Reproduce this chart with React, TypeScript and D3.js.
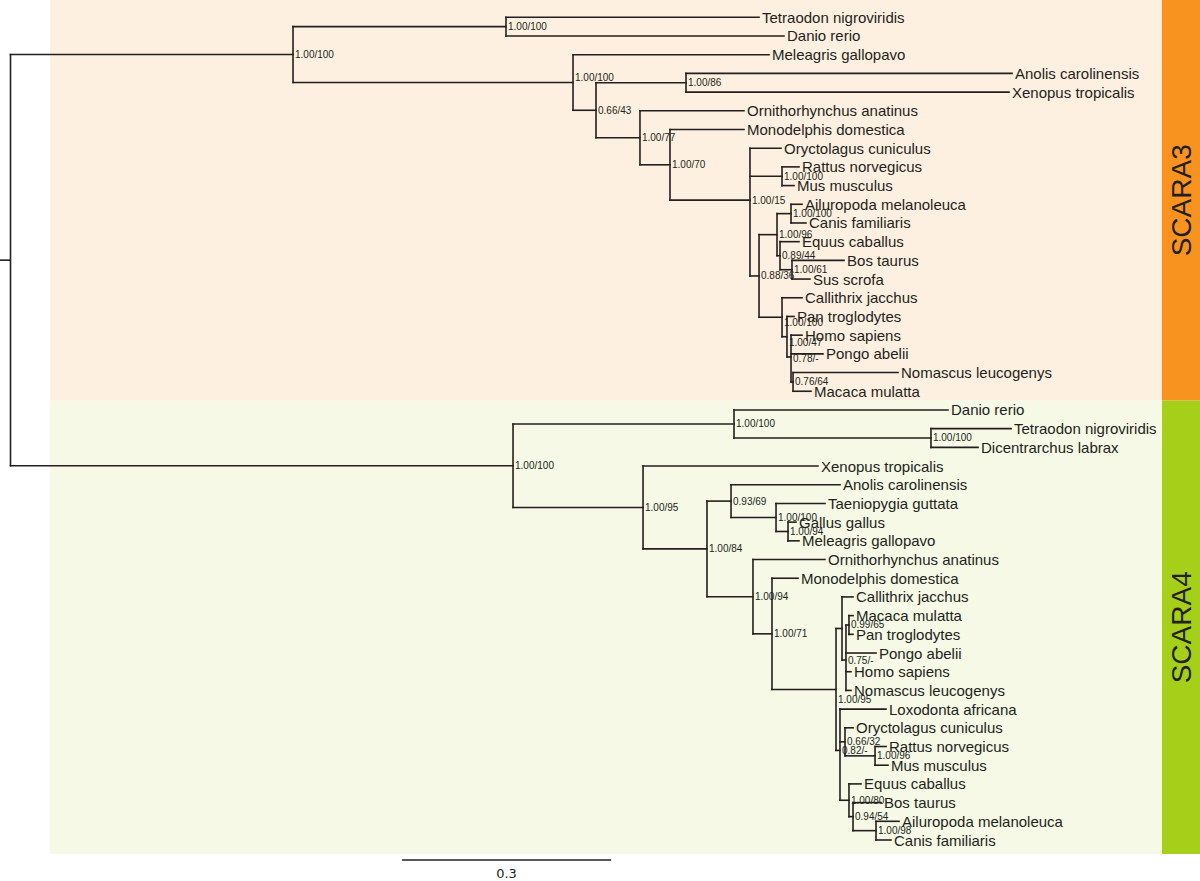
import React from "react";
import * as d3 from "d3";

// Leaves in drawing order (top to bottom)
const leafNames = [
  "Tetraodon nigroviridis", "Danio rerio", "Meleagris gallopavo", "Anolis carolinensis",
  "Xenopus tropicalis", "Ornithorhynchus anatinus", "Monodelphis domestica", "Oryctolagus cuniculus",
  "Rattus norvegicus", "Mus musculus", "Ailuropoda melanoleuca", "Canis familiaris",
  "Equus caballus", "Bos taurus", "Sus scrofa", "Callithrix jacchus", "Pan troglodytes",
  "Homo sapiens", "Pongo abelii", "Nomascus leucogenys", "Macaca mulatta",
  "Danio rerio", "Tetraodon nigroviridis", "Dicentrarchus labrax", "Xenopus tropicalis",
  "Anolis carolinensis", "Taeniopygia guttata", "Gallus gallus", "Meleagris gallopavo",
  "Ornithorhynchus anatinus", "Monodelphis domestica", "Callithrix jacchus", "Macaca mulatta",
  "Pan troglodytes", "Pongo abelii", "Homo sapiens", "Nomascus leucogenys", "Loxodonta africana",
  "Oryctolagus cuniculus", "Rattus norvegicus", "Mus musculus", "Equus caballus", "Bos taurus",
  "Ailuropoda melanoleuca", "Canis familiaris",
];
const leafParents = [
  "f3", "f3", "t3", "ax3", "ax3", "m3", "th3", "e3", "rm3", "rm3", "ac3", "ac3", "eb3", "bs3", "bs3",
  "p3", "q3", "r3", "r3", "nm3", "nm3",
  "f4", "td4", "td4", "t4", "rb4", "b4", "gm4", "gm4", "mm4", "th4", "p4", "q4", "q4", "r4", "r4", "r4",
  "y4", "g4", "rod4", "rod4", "l4", "bac4", "ac4", "ac4",
];
// distance from root (substitutions / site)
const leafDepths = [
  1.0744, 1.1102, 1.0887, 1.4375, 1.4332, 1.0528, 1.0528, 1.1059, 1.1318, 1.1246, 1.1361, 1.1418,
  1.1318, 1.1964, 1.1475, 1.1361, 1.1246, 1.1361, 1.1662, 1.2739, 1.149,
  1.3456, 1.4361, 1.3887, 1.159, 1.1906, 1.1691, 1.1275, 1.1318, 1.1691, 1.1303, 1.2093, 1.2093,
  1.2093, 1.2423, 1.2064, 1.2064, 1.2566, 1.2093, 1.2566, 1.2595, 1.2207, 1.2495, 1.2753, 1.2638,
];

// Internal nodes
const nodeIds = [
  "root", "s3", "f3", "t3", "a3", "ax3", "m3", "th3", "e3", "rm3", "l3", "ca3", "ac3", "eb3", "bs3",
  "p3", "q3", "r3", "nm3",
  "s4", "f4", "td4", "t4", "n84", "rb4", "b4", "gm4", "mm4", "th4", "x4", "p4", "r4", "q4", "y4",
  "g4", "rod4", "l4", "bac4", "ac4",
];
const nodeParents = [
  "", "root", "s3", "s3", "t3", "a3", "a3", "m3", "th3", "e3", "e3", "l3", "ca3", "ca3", "eb3",
  "l3", "p3", "q3", "r3",
  "root", "s4", "f4", "s4", "t4", "n84", "rb4", "b4", "n84", "mm4", "th4", "x4", "p4", "r4", "x4",
  "y4", "g4", "y4", "l4", "bac4",
];
const nodeDepths = [
  0, 0.4055, 0.7112, 0.8074, 0.8404, 0.9696, 0.9035, 0.9466, 1.0614, 1.1074, 1.0744, 1.1002, 1.1203,
  1.1045, 1.1217, 1.1074, 1.1145, 1.1203, 1.1232,
  0.7213, 1.0385, 1.3212, 0.9079, 0.9997, 1.0342, 1.0988, 1.116, 1.0657, 1.093, 1.1849, 1.1935,
  1.1992, 1.2035, 1.1906, 1.1978, 1.2409, 1.2035, 1.2093, 1.2423,
];
const nodeSupport = [
  "", "1.00/100", "1.00/100", "1.00/100", "0.66/43", "1.00/86", "1.00/77", "1.00/70", "1.00/15",
  "1.00/100", "0.88/36", "1.00/96", "1.00/100", "0.89/44", "1.00/61", "1.00/100", "1.00/47",
  "0.78/-", "0.76/64",
  "1.00/100", "1.00/100", "1.00/100", "1.00/95", "1.00/84", "0.93/69", "1.00/100", "1.00/94",
  "1.00/94", "1.00/71", "1.00/95", "", "0.75/-", "0.99/65", "0.82/-", "0.66/32", "1.00/96",
  "1.00/80", "0.94/54", "1.00/98",
];
// small vertical nudges of support labels (px), as placed in the figure
const supportNudge: Record<string, number> = { t3: -5, p3: 5, q3: 6, r3: 2, x4: 10 };

const cladeNames = ["SCARA3", "SCARA4"];
const cladeLeafRanges = [[0, 20], [21, 44]];
const cladePanelColors = ["#fdf0e0", "#f5f9e6"];
const cladeBarColors = ["#f7931e", "#a5cf18"];
const scaleBarLength = 0.3;
const scaleBarStart = 0.562;

type Row = { id: string; parent: string | null; depth: number; support: string; leafIndex: number; name: string };

export default function App() {
  const W = 1200, H = 881;
  const x = d3.scaleLinear().domain([0, 1]).range([10.5, 707.2]);
  const y = d3.scaleLinear().domain([0, leafNames.length - 1]).range([17.3, 840]);

  const rows: Row[] = [
    ...nodeIds.map((id, i) => ({ id, parent: nodeParents[i] || null, depth: nodeDepths[i], support: nodeSupport[i], leafIndex: -1, name: "" })),
    ...leafNames.map((n, i) => ({ id: "L" + i, parent: leafParents[i], depth: leafDepths[i], support: "", leafIndex: i, name: n })),
  ];
  const root = d3.stratify<Row>().id((d) => d.id).parentId((d) => d.parent)(rows);
  const ypos = new Map<string, number>();
  root.eachAfter((n: any) => {
    if (!n.children) ypos.set(n.id, y(n.data.leafIndex));
    else ypos.set(n.id, d3.mean(n.children, (c: any) => ypos.get(c.id)!)!);
  });
  const nodes = root.descendants();
  const stroke = "#231f20";
  const ink = "#231f20";

  const panelTop = (r: number[]) => (r[0] === 0 ? 0 : (y(r[0]) + y(r[0] - 1)) / 2);
  const panelBottom = (r: number[]) => (r[1] === leafNames.length - 1 ? y(r[1]) + 14 : (y(r[1]) + y(r[1] + 1)) / 2);

  return (
    <svg width={W} height={H} style={{ position: "absolute", left: 0, top: 0, background: "#fff" }} fontFamily="'Liberation Sans', Arial, Helvetica, sans-serif">
      {cladeNames.map((c, i) => {
        const t = panelTop(cladeLeafRanges[i]);
        const b = panelBottom(cladeLeafRanges[i]);
        return (
          <g key={c}>
            <rect x={50} y={t} width={1112} height={b - t} fill={cladePanelColors[i]} />
            <rect x={1162} y={t} width={38} height={b - t} fill={cladeBarColors[i]} />
            <text transform={`translate(1191,${(t + b) / 2}) rotate(-90)`} textAnchor="middle" fontSize={28} fill={ink}>{c}</text>
          </g>
        );
      })}
      {/* root stub */}
      <line x1={0} x2={x(0)} y1={ypos.get("root")} y2={ypos.get("root")} stroke={stroke} strokeWidth={1.6} />
      {nodes.map((n: any) => {
        const ny = ypos.get(n.id)!;
        const nx = x(n.data.depth);
        const els: any[] = [];
        if (n.parent) {
          els.push(<line key="h" x1={x(n.parent.data.depth)} x2={nx} y1={ny} y2={ny} stroke={stroke} strokeWidth={1.6} strokeLinecap="square" />);
        }
        if (n.children) {
          const ys = n.children.map((c: any) => ypos.get(c.id)!);
          els.push(<line key="v" x1={nx} x2={nx} y1={d3.min(ys)} y2={d3.max(ys)} stroke={stroke} strokeWidth={1.6} strokeLinecap="square" />);
          if (n.data.support) els.push(<text key="s" x={nx + 2} y={ny + 3.5 + (supportNudge[n.id] || 0)} fontSize={10} fill={ink}>{n.data.support}</text>);
        } else {
          els.push(<text key="l" x={nx + 3} y={ny + 5.5} fontSize={15} fill={ink}>{n.data.name}</text>);
        }
        return <g key={n.id}>{els}</g>;
      })}
      {/* scale bar */}
      <line x1={x(scaleBarStart)} x2={x(scaleBarStart + scaleBarLength)} y1={860} y2={860} stroke={stroke} strokeWidth={1.6} />
      <text x={(x(scaleBarStart) + x(scaleBarStart + scaleBarLength)) / 2} y={878} textAnchor="middle" fontSize={13} fontFamily="'DejaVu Sans', sans-serif" fill={ink}>{scaleBarLength}</text>
    </svg>
  );
}
